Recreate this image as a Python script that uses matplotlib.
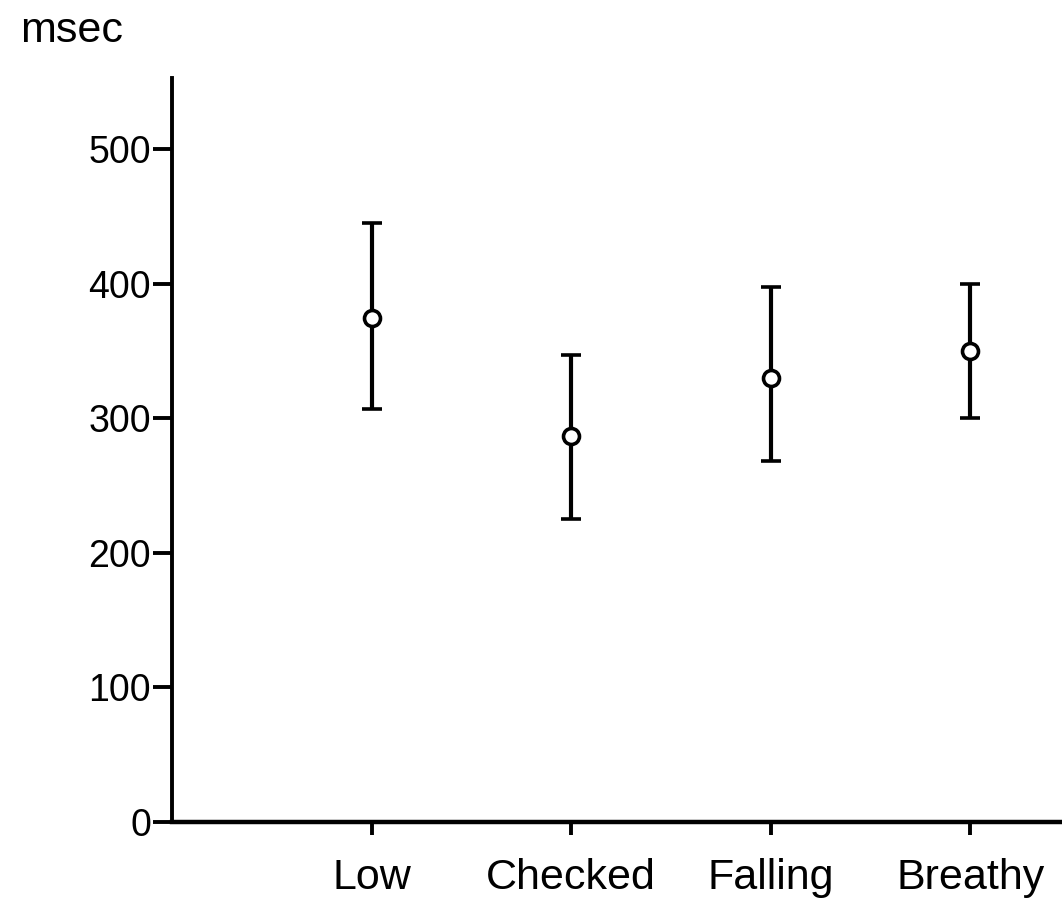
"""Mean durations (msec) with error bars for the four tone categories."""

import matplotlib

matplotlib.use("Agg")
import matplotlib.pyplot as plt

# data
categories = ["Low", "Checked", "Falling", "Breathy"]
means = [375, 287, 330, 350]
upper = [445, 347, 398, 400]
lower = [307, 225, 268, 300]
y_ticks = [0, 100, 200, 300, 400, 500]

plt.rcParams["font.family"] = ["Liberation Sans", "DejaVu Sans"]

positions = list(range(1, len(categories) + 1))
err_low = [m - lo for m, lo in zip(means, lower)]
err_high = [hi - m for m, hi in zip(means, upper)]

fig = plt.figure(figsize=(10.62, 9.09), dpi=100)
ax = fig.add_axes([0.162, 0.096, 0.838, 0.818])

ax.errorbar(
    positions,
    means,
    yerr=[err_low, err_high],
    fmt="o",
    color="black",
    ecolor="black",
    elinewidth=3,
    capsize=7.5,
    capthick=3.5,
    markersize=11.5,
    markerfacecolor="white",
    markeredgecolor="black",
    markeredgewidth=2.6,
    clip_on=False,
)

ax.set_xlim(0, 4.46)
ax.set_ylim(0, 553)

ax.spines["top"].set_visible(False)
ax.spines["right"].set_visible(False)
ax.spines["left"].set_linewidth(2.8)
ax.spines["bottom"].set_linewidth(3.2)

ax.set_yticks(y_ticks)
ax.set_yticklabels([str(v) for v in y_ticks], fontsize=27)
ax.tick_params(axis="y", direction="out", length=14, width=2.8, pad=1)

ax.set_xticks(positions)
ax.set_xticklabels(categories, fontsize=31)
ax.tick_params(axis="x", direction="out", length=9, width=2.8, pad=17)

fig.text(0.019, 0.966, "msec", fontsize=31, ha="left", va="center")

plt.savefig("out.png", dpi=100)
plt.close(fig)
